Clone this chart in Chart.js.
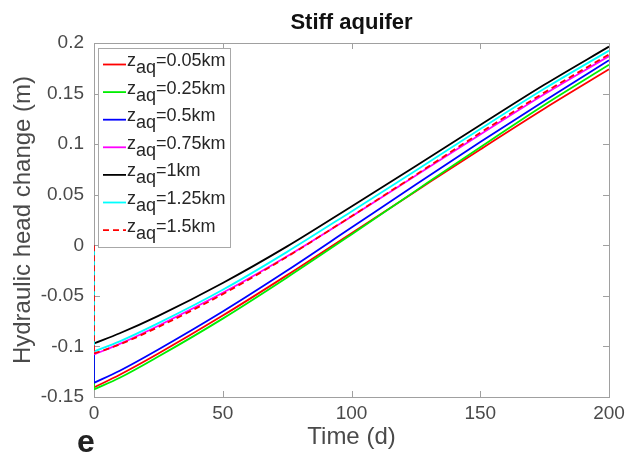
<!DOCTYPE html>
<html>
<head>
<meta charset="utf-8">
<script src="https://cdn.jsdelivr.net/npm/chart.js@4/dist/chart.umd.min.js"></script>
<style>
  html, body { margin: 0; padding: 0; background: #ffffff; }
  #wrap { width: 636px; height: 458px; position: relative; }
</style>
</head>
<body>
<div id="wrap"><canvas id="c"></canvas></div>
<script>
// ---- data ----
const times = [0, 10, 25, 50, 75, 100, 125, 150, 175, 200];
const h005 = [-0.1405, -0.128, -0.107, -0.0695, -0.0295, 0.012, 0.0535, 0.0948, 0.1353, 0.1740];
const h025 = [-0.1425, -0.131, -0.110, -0.0725, -0.0318, 0.0107, 0.054, 0.097, 0.139, 0.1785];
const h05  = [-0.136, -0.124, -0.103, -0.0655, -0.025, 0.0175, 0.060, 0.102, 0.143, 0.183];
const h075 = [-0.108, -0.0975, -0.0795, -0.047, -0.0108, 0.0285, 0.069, 0.1095, 0.1495, 0.187];
const h1   = [-0.097, -0.087, -0.0698, -0.0373, -0.0011, 0.0384, 0.0784, 0.1189, 0.1589, 0.1964];
const h125 = [-0.105, -0.095, -0.077, -0.044, -0.0065, 0.0335, 0.074, 0.115, 0.155, 0.1925];
const h15  = [-0.107, -0.098, -0.0808, -0.0483, -0.0113, 0.0287, 0.0697, 0.1112, 0.1512, 0.1887];
const startHead = 0;
const seriesNames = ['0.05km', '0.25km', '0.5km', '0.75km', '1km', '1.25km', '1.5km'];
const xTicks = [0, 50, 100, 150, 200];
const yTicks = [-0.15, -0.1, -0.05, 0, 0.05, 0.1, 0.15, 0.2];
const yTickLabels = ['-0.15', '-0.1', '-0.05', '0', '0.05', '0.1', '0.15', '0.2'];

// ---- styling ----
const allSeries = [h005, h025, h05, h075, h1, h125, h15];
const colors = ['#ff0000', '#00ee00', '#0000ff', '#ff00ff', '#000000', '#00ffff', '#ff0000'];
const dashes = [[], [], [], [], [], [], [6, 4]];
const LW = 1.8;
const TICK_COLOR = '#4a4a4a';
const FRAME_COLOR = '#a0a0a0';

const datasets = [];
allSeries.forEach((s, i) => {
  // main curve
  datasets.push({
    data: times.map((t, k) => ({x: t, y: s[k]})),
    borderColor: colors[i], borderWidth: LW, borderDash: dashes[i],
    pointRadius: 0, fill: false, cubicInterpolationMode: 'monotone',
    order: 2 * (allSeries.length - 1 - i)
  });
  // initial drop at t = 0
  datasets.push({
    data: [{x: times[0], y: startHead}, {x: times[0], y: s[0]}],
    borderColor: colors[i], borderWidth: LW, borderDash: dashes[i],
    pointRadius: 0, fill: false, tension: 0,
    order: 2 * (allSeries.length - 1 - i) + 1
  });
});

const framePlugin = {
  id: 'frame',
  beforeDatasetsDraw(chart) {
    const {ctx, chartArea: a, scales: {x, y}} = chart;
    ctx.save();
    ctx.strokeStyle = FRAME_COLOR;
    ctx.lineWidth = 1;
    ctx.strokeRect(Math.round(a.left) + 0.5, Math.round(a.top) + 0.5,
                   Math.round(a.right - a.left), Math.round(a.bottom - a.top));
    const tl = 6;
    ctx.beginPath();
    xTicks.forEach(v => {
      const px = Math.round(x.getPixelForValue(v)) + 0.5;
      ctx.moveTo(px, a.bottom); ctx.lineTo(px, a.bottom - tl);
      ctx.moveTo(px, a.top); ctx.lineTo(px, a.top + tl);
    });
    yTicks.forEach(v => {
      const py = Math.round(y.getPixelForValue(v)) + 0.5;
      ctx.moveTo(a.left, py); ctx.lineTo(a.left + tl, py);
      ctx.moveTo(a.right, py); ctx.lineTo(a.right - tl, py);
    });
    ctx.stroke();
    ctx.restore();
  },
  afterDraw(chart) {
    const {ctx, chartArea: a} = chart;
    ctx.save();
    // title
    ctx.fillStyle = '#111111';
    ctx.font = 'bold 22px "Liberation Sans", Arial, sans-serif';
    ctx.textAlign = 'center';
    ctx.textBaseline = 'alphabetic';
    ctx.fillText('Stiff aquifer', (a.left + a.right) / 2, 29);
    // panel letter
    ctx.font = 'bold 32px "Liberation Sans", Arial, sans-serif';
    ctx.fillStyle = '#222222';
    ctx.textAlign = 'left';
    ctx.fillText('e', 77, 452);
    // legend
    const bx = 98.5, by = 48.5, bw = 132, bh = 199;
    ctx.fillStyle = '#ffffff';
    ctx.fillRect(bx, by, bw, bh);
    ctx.strokeStyle = '#a8a8a8';
    ctx.lineWidth = 1;
    ctx.strokeRect(bx, by, bw, bh);
    ctx.font = '18px "Liberation Sans", Arial, sans-serif';
    seriesNames.forEach((name, i) => {
      const ly = 64.5 + 27.6 * i;
      ctx.strokeStyle = colors[i];
      ctx.lineWidth = LW;
      ctx.setLineDash(dashes[i]);
      ctx.beginPath();
      ctx.moveTo(103, ly); ctx.lineTo(126, ly);
      ctx.stroke();
      ctx.setLineDash([]);
      ctx.fillStyle = '#262626';
      ctx.textAlign = 'left';
      let xx = 127;
      ctx.fillText('z', xx, ly + 1.5);
      xx += ctx.measureText('z').width;
      ctx.fillText('aq', xx, ly + 8.5);
      xx += ctx.measureText('aq').width;
      ctx.fillText('=' + name, xx, ly + 1.5);
    });
    ctx.restore();
  }
};

new Chart(document.getElementById('c'), {
  type: 'line',
  data: { datasets },
  options: {
    responsive: true, maintainAspectRatio: false, animation: false,
    devicePixelRatio: 1,
    layout: { padding: { top: 43, right: 27, left: 0, bottom: 0 } },
    plugins: { legend: { display: false }, tooltip: { enabled: false }, title: { display: false } },
    scales: {
      x: {
        type: 'linear', min: 0, max: 200,
        afterBuildTicks: s => { s.ticks = xTicks.map(v => ({value: v})); },
        afterFit: s => { s.height = 61; },
        grid: { display: false, drawTicks: false },
        border: { display: false },
        ticks: { color: TICK_COLOR, font: { size: 19, family: '"Liberation Sans", Arial, sans-serif' }, padding: 5, maxRotation: 0 },
        title: { display: true, text: 'Time (d)', color: TICK_COLOR,
                 font: { size: 24, family: '"Liberation Sans", Arial, sans-serif' },
                 padding: { top: 0, bottom: 6 } }
      },
      y: {
        type: 'linear', min: -0.15, max: 0.2,
        afterBuildTicks: s => { s.ticks = yTicks.map(v => ({value: v})); },
        afterFit: s => { s.width = 94; },
        grid: { display: false, drawTicks: false },
        border: { display: false },
        ticks: { color: TICK_COLOR, font: { size: 19, family: '"Liberation Sans", Arial, sans-serif' }, padding: 10,
                 callback: (v, i) => yTickLabels[i] },
        title: { display: true, text: 'Hydraulic head change (m)', color: TICK_COLOR,
                 font: { size: 24, family: '"Liberation Sans", Arial, sans-serif' },
                 padding: { top: 9, bottom: 0 } }
      }
    }
  },
  plugins: [framePlugin]
});
</script>
</body>
</html>
